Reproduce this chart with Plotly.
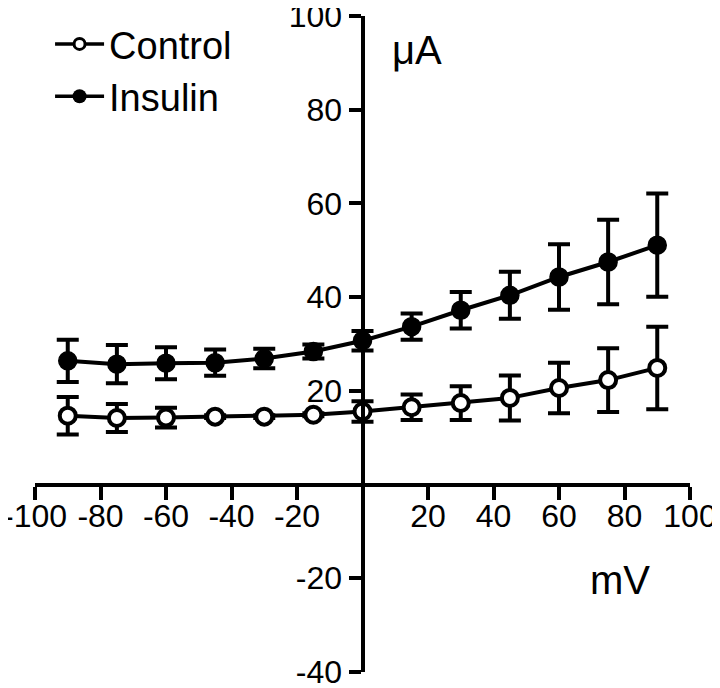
import plotly.graph_objects as go

# ---- data ----
voltage_mV = [-90, -75, -60, -45, -30, -15, 0, 15, 30, 45, 60, 75, 90]
control_uA = [14.7, 14.2, 14.3, 14.5, 14.5, 14.9, 15.6, 16.5, 17.4, 18.5, 20.6, 22.3, 24.9]
control_err = [4.0, 3.0, 2.1, 0.3, 0.3, 0.3, 2.2, 2.7, 3.6, 4.8, 5.4, 6.8, 8.8]
insulin_uA = [26.4, 25.7, 25.9, 26.0, 26.9, 28.4, 30.7, 33.7, 37.2, 40.4, 44.3, 47.5, 51.1]
insulin_err = [4.5, 4.1, 3.4, 2.8, 2.1, 1.5, 2.1, 2.8, 3.9, 5.0, 7.0, 9.0, 11.0]

x_ticks = [-100, -80, -60, -40, -20, 20, 40, 60, 80, 100]
y_ticks = [-40, -20, 20, 40, 60, 80, 100]
x_range = [-100, 100]
y_range = [-40, 100]

FONT = "Liberation Sans, Arial, Helvetica, sans-serif"
BLACK = "#000000"

fig = go.Figure()

# Insulin (filled)
fig.add_trace(go.Scatter(
    x=voltage_mV, y=insulin_uA, mode="lines+markers", showlegend=False,
    line=dict(color=BLACK, width=4),
    marker=dict(symbol="circle", size=18, color=BLACK, line=dict(color=BLACK, width=1.5)),
    error_y=dict(type="data", array=insulin_err, visible=True, color=BLACK, thickness=4, width=11),
))
# Control (open)
fig.add_trace(go.Scatter(
    x=voltage_mV, y=control_uA, mode="lines+markers", showlegend=False,
    line=dict(color=BLACK, width=4),
    marker=dict(symbol="circle", size=16, color="white", line=dict(color=BLACK, width=4)),
    error_y=dict(type="data", array=control_err, visible=True, color=BLACK, thickness=4, width=11),
))

# legend-only entries
fig.add_trace(go.Scatter(
    x=[None], y=[None], mode="lines+markers", name="Control",
    line=dict(color=BLACK, width=3.5),
    marker=dict(symbol="circle", size=11, color="white", line=dict(color=BLACK, width=3)),
))
fig.add_trace(go.Scatter(
    x=[None], y=[None], mode="lines+markers", name="Insulin",
    line=dict(color=BLACK, width=3.5),
    marker=dict(symbol="circle", size=14, color=BLACK),
))

x_pos = (0 - y_range[0]) / (y_range[1] - y_range[0])
y_pos = (0 - x_range[0]) / (x_range[1] - x_range[0])

common_x = dict(range=x_range, tickvals=x_ticks, ticktext=[str(v) for v in x_ticks],
                anchor="free", position=x_pos, showgrid=False, zeroline=False,
                linecolor=BLACK, linewidth=4, tickcolor=BLACK, tickwidth=3.5, fixedrange=True)
common_y = dict(range=y_range, tickvals=y_ticks, ticktext=[str(v) for v in y_ticks],
                anchor="free", position=y_pos, showgrid=False, zeroline=False,
                linecolor=BLACK, linewidth=4, tickcolor=BLACK, tickwidth=3.5, fixedrange=True)

fig.update_layout(
    width=720, height=688,
    margin=dict(l=27, r=38, t=8, b=24, autoexpand=False),
    paper_bgcolor="white", plot_bgcolor="white",
    font=dict(family=FONT, color=BLACK, size=32),
    xaxis=dict(**common_x, showline=True, ticks="outside", ticklen=13,
               tickfont=dict(size=32, family=FONT, color=BLACK), automargin=False,
               ticklabeloverflow="allow", ticklabelstandoff=-11),
    yaxis=dict(**common_y, showline=True, ticks="outside", ticklen=12,
               tickfont=dict(size=32, family=FONT, color=BLACK), automargin=False,
               ticklabeloverflow="allow"),
    xaxis2=dict(**common_x, overlaying="x", showline=False, ticks="inside", ticklen=10,
                showticklabels=False),
    yaxis2=dict(**common_y, overlaying="y", showline=False, ticks="inside", ticklen=12,
                showticklabels=False),
    legend=dict(x=0.023, y=1.005, xanchor="left", yanchor="top",
                font=dict(size=38, family=FONT, color=BLACK),
                bgcolor="rgba(0,0,0,0)", borderwidth=0, itemwidth=49,
                tracegroupgap=0),
    annotations=[
        dict(text="μA", xref="paper", yref="paper", x=0.542, y=0.948,
             xanchor="left", yanchor="middle", showarrow=False,
             font=dict(size=40, family=FONT, color=BLACK)),
        dict(text="mV", xref="paper", yref="paper", x=0.844, y=0.140,
             xanchor="left", yanchor="middle", showarrow=False,
             font=dict(size=40, family=FONT, color=BLACK)),
    ],
)

fig.write_html("out.html")
